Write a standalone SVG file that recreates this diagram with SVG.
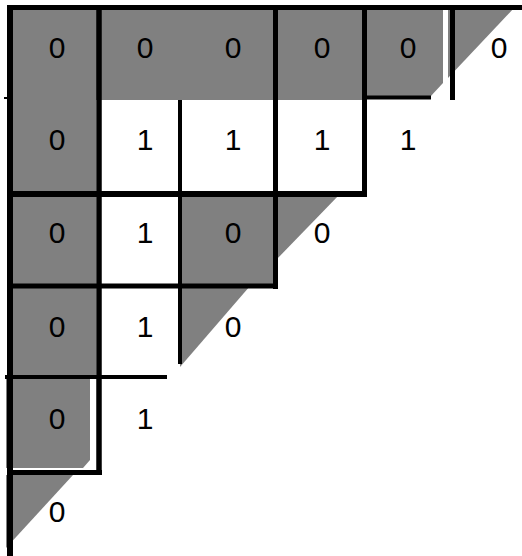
<svg xmlns="http://www.w3.org/2000/svg" width="522" height="556" viewBox="0 0 522 556">
<style>
.g{fill:#808080;stroke:none}
.k{stroke:#000;fill:none;stroke-linecap:butt}
</style>
<rect width="522" height="556" fill="#fff"/>
<g id="shading">
<rect class="g" x="10" y="7" width="352" height="93"/>
<rect class="g" x="10" y="7" width="86" height="371"/>
<polygon class="g" points="364,7 443,7 443,83 430,97 364,97"/>
<polygon class="g" points="448,7 515,7 448,78"/>
<rect class="g" x="181" y="194" width="94" height="92"/>
<polygon class="g" points="276,194 340,194 276,260"/>
<polygon class="g" points="180,286 250,286 180,367"/>
<polygon class="g" points="6,378 90,378 90,460 83,468 6,468"/>
<polygon class="g" points="6,475 73,475 6,548"/>
</g>
<g id="connectors">
<line class="k" x1="7" y1="7.5" x2="522" y2="7.5" stroke-width="5"/>
<line class="k" x1="10" y1="5" x2="10" y2="556" stroke-width="6"/>
<line class="k" x1="99" y1="5" x2="99" y2="475" stroke-width="5.5"/>
<line class="k" x1="180" y1="100" x2="180" y2="364" stroke-width="4"/>
<line class="k" x1="275.5" y1="5" x2="275.5" y2="289" stroke-width="5"/>
<line class="k" x1="364.5" y1="5" x2="364.5" y2="197" stroke-width="5"/>
<line class="k" x1="452.5" y1="5" x2="452.5" y2="100" stroke-width="5"/>
<line class="k" x1="362" y1="97.5" x2="431" y2="97.5" stroke-width="4"/>
<line class="k" x1="4" y1="98" x2="8" y2="98" stroke-width="2"/>
<line class="k" x1="7" y1="194" x2="367" y2="194" stroke-width="6"/>
<line class="k" x1="7" y1="286" x2="278" y2="286" stroke-width="5"/>
<line class="k" x1="5" y1="377" x2="167" y2="377" stroke-width="4"/>
<line class="k" x1="7" y1="472.5" x2="102" y2="472.5" stroke-width="5"/>
</g>
<g id="cells" font-family="Liberation Sans, Arial, sans-serif" font-size="30" fill="#000" text-anchor="middle">
<g id="row0">
<text x="57" y="58">0</text>
<text x="145" y="58">0</text>
<text x="233" y="58">0</text>
<text x="322" y="58">0</text>
<text x="408" y="58">0</text>
<text x="499" y="58">0</text>
</g>
<g id="row1">
<text x="57" y="150">0</text>
<text x="145" y="150">1</text>
<text x="233" y="150">1</text>
<text x="322" y="150">1</text>
<text x="408" y="150">1</text>
</g>
<g id="row2">
<text x="57" y="243">0</text>
<text x="145" y="243">1</text>
<text x="233" y="243">0</text>
<text x="322" y="243">0</text>
</g>
<g id="row3">
<text x="57" y="337">0</text>
<text x="145" y="337">1</text>
<text x="233" y="337">0</text>
</g>
<g id="row4">
<text x="57" y="429">0</text>
<text x="145" y="429">1</text>
</g>
<g id="row5">
<text x="57" y="522">0</text>
</g>
</g>
</svg>
